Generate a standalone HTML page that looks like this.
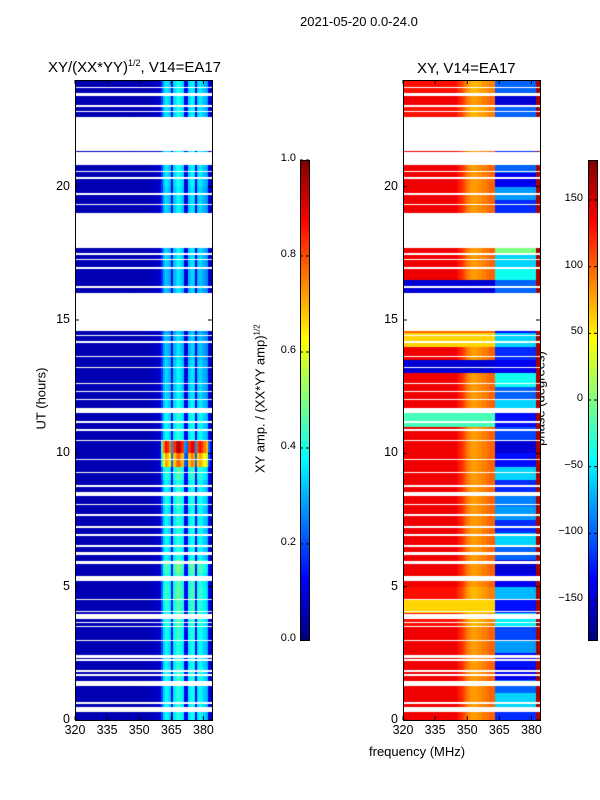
<!DOCTYPE html>
<html><head><meta charset="utf-8">
<style>
body{margin:0;background:#fff;width:600px;height:800px;position:relative;overflow:hidden;font-family:"Liberation Sans",sans-serif;}
.t{position:absolute;font-size:13px;color:#000;white-space:nowrap;}
.tk{position:absolute;font-size:12.5px;color:#000;white-space:nowrap;}
.cb{position:absolute;font-size:11px;color:#000;white-space:nowrap;}
canvas{position:absolute;}
</style></head>
<body>
<div class="t" style="left:300px;top:14px;">2021-05-20 0.0-24.0</div>
<div class="t" style="left:48px;top:58px;font-size:15px;">XY/(XX*YY)<sup style="font-size:9px">1/2</sup>, V14=EA17</div>
<div class="t" style="left:417px;top:60px;font-size:15px;">XY, V14=EA17</div>
<div class="t" style="left:369px;top:744px;">frequency (MHz)</div>
<div class="t" style="left:1px;top:391px;transform:rotate(-90deg);transform-origin:center;width:80px;text-align:center;">UT (hours)</div>
<div class="t" style="left:180px;top:391px;width:160px;text-align:center;transform:rotate(-90deg);">XY amp. / (XX*YY amp)<sup style="font-size:8px">1/2</sup></div>
<div class="t" style="left:490px;top:391px;width:100px;text-align:center;transform:rotate(-90deg);">phase (degrees)</div>

<canvas id="amp" width="137" height="640" style="left:75px;top:80px;"></canvas>
<canvas id="ph" width="137" height="640" style="left:403px;top:80px;"></canvas>
<canvas id="cb1" width="9" height="480" style="left:300px;top:160px;"></canvas>
<canvas id="cb2" width="9" height="480" style="left:588px;top:160px;"></canvas>
<svg id="ov" width="600" height="800" style="position:absolute;left:0;top:0;"></svg>
<div id="labels"></div>

<script>
// ---- data ----
const xTicks = [320,335,350,365,380];
const yTicks = [0,5,10,15,20];
const ampTicks = [0.0,0.2,0.4,0.6,0.8,1.0];
const phaseTicks = [-150,-100,-50,0,50,100,150];
// flagged (white) time ranges in hours
const flagged = [[0.3,0.5],[0.6,0.66],[1.27,1.45],[1.65,1.72],[1.8,1.88],[2.22,2.3],[2.34,2.44],[2.95,3.0],[3.48,3.52],[3.65,3.68],[3.8,3.97],[4.04,4.1],[4.5,4.54],[5.2,5.4],[5.85,5.95],
[6.2,6.3],[6.5,6.55],[6.9,6.97],[7.2,7.28],[7.65,7.72],[8.05,8.1],[8.4,8.55],[8.75,8.82],[9.25,9.3],[9.75,9.8],[10.45,10.5],[10.85,10.9],[11.15,11.2],[11.5,11.7],[12.0,12.05],[12.3,12.35],[12.6,12.65],[13.2,13.25],[13.6,13.65],[14.15,14.22],
[14.4,14.45],[14.6,16.0],[16.2,16.28],[16.9,17.0],[17.25,17.3],[17.45,17.5],[17.7,19.0],[19.3,19.35],[19.7,19.75],[20.3,20.35],[20.55,20.6],[20.8,21.3],[21.35,22.6],[22.8,22.85],[23.0,23.05],[23.4,23.5],[23.7,23.75]];
// amplitude by 1 MHz channel starting at 320 MHz
const ampProfile = [0.05,0.05,0.05,0.05,0.05,0.05,0.05,0.05,0.05,0.05,0.05,0.05,0.05,0.05,0.05,0.05,0.05,0.05,0.05,0.05,
0.05,0.05,0.06,0.05,0.05,0.05,0.05,0.05,0.05,0.06,0.05,0.05,0.05,0.06,0.05,0.06,0.06,0.06,0.07,0.08,
0.2,0.33,0.38,0.36,0.33,0.12,0.36,0.4,0.42,0.38,0.36,0.12,0.1,0.36,0.4,0.38,0.12,0.35,0.38,0.36,0.33,0.3,0.1,0.06];
// half-hour gain applied to amplitude bright band (0..24h)
const ampGain = [1.0,1.0,1.0,1.05,1.0,1.0,1.05,1.1,1.1,1.15,1.1,1.2,1.0,1.0,1.0,1.0,1.05,1.0,1.1,1.9,2.3,1.0,1.0,0.95,
0.9,0.9,0.9,0.85,0.85,0.8,0.8,0.8,0.85,0.85,0.9,0.9,0.9,0.9,0.9,0.9,0.95,0.95,0.95,0.95,0.95,0.95,0.95,0.95];
// half-hour phase (degrees), low band (<363 MHz) and high band
const phaseLow = [140,140,140,140,140,140,140,130,60,130,140,140,140,140,140,140,140,140,140,140,140,140,-20,140,
140,140,-150,140,60,100,0,0,-150,140,140,140,0,0,140,140,140,140,140,140,140,130,140,130];
const phaseHigh = [-120,-60,-100,-140,-130,-80,-110,-50,-130,-70,-140,-150,-100,-60,-120,-80,-90,-120,-60,-130,-150,-110,-130,-60,
-100,-40,-140,-120,-60,-130,0,0,-100,-40,-60,0,0,0,-120,-80,-140,-100,-120,-120,-130,-100,-150,-100];
// phase offset per 1 MHz channel added to low band (yellow band near 350-362 MHz)
const lowBandOffset = [0,0,0,0,0,0,0,0,0,0,0,0,0,0,0,0,0,0,0,0,0,0,0,0,0,-10,-15,-20,-30,-40,-50,-55,-60,-60,-60,-55,-55,-50,-50,-45,-40,-40,-40];

function jet(v){v=Math.max(0,Math.min(1,v));
 const r=Math.max(0,Math.min(1,1.5-Math.abs(4*v-3))),g=Math.max(0,Math.min(1,1.5-Math.abs(4*v-2))),b=Math.max(0,Math.min(1,1.5-Math.abs(4*v-1)));
 return [r*255|0,g*255|0,b*255|0];}
const X0=320,X1=384,W=137,H=640;
function isFlag(h){return flagged.some(f=>h>=f[0]&&h<f[1]);}

function drawHeat(id,valFn){
 const c=document.getElementById(id),ctx=c.getContext('2d');const img=ctx.createImageData(W,H);
 for(let py=0;py<H;py++){const h=(H-py-0.5)/H*24;const fl=isFlag(h);
  for(let px=0;px<W;px++){const f=X0+(px+0.5)/W*(X1-X0);let col=[255,255,255];
   if(!fl){col=jet(valFn(h,f));}
   const k=(py*W+px)*4;img.data[k]=col[0];img.data[k+1]=col[1];img.data[k+2]=col[2];img.data[k+3]=255;}}
 ctx.putImageData(img,0,0);}
function chan(f){return Math.max(0,Math.min(ampProfile.length-1,Math.floor(f-320)));}
function hh(h){return Math.min(47,Math.floor(h*2));}
drawHeat('amp',(h,f)=>{const c=chan(f);const a=ampProfile[c];return c>=40?a*ampGain[hh(h)]:a;});
drawHeat('ph',(h,f)=>{const c=chan(f);let p;
 if(c<=42)p=phaseLow[hh(h)]+(phaseLow[hh(h)]>100?lowBandOffset[c]:0);
 else if(c>=62)p=165;
 else p=phaseHigh[hh(h)];
 return (p+180)/360;});

function drawBar(id){const c=document.getElementById(id),ctx=c.getContext('2d');
 for(let y=0;y<480;y++){const col=jet(1-y/479);ctx.fillStyle=`rgb(${col})`;ctx.fillRect(0,y,9,1);} }
drawBar('cb1');drawBar('cb2');

// overlay axes
const ov=document.getElementById('ov'),NS='http://www.w3.org/2000/svg';
const lab=document.getElementById('labels');
function line(x1,y1,x2,y2,name){const l=document.createElementNS(NS,'line');
 l.setAttribute('x1',x1);l.setAttribute('y1',y1);l.setAttribute('x2',x2);l.setAttribute('y2',y2);l.setAttribute('stroke','#000');l.setAttribute('stroke-width',1);
 
 
 ov.appendChild(l);}
function rect(x,y,w,h,name){const r=document.createElementNS(NS,'rect');
 r.setAttribute('x',x);r.setAttribute('y',y);r.setAttribute('width',w);r.setAttribute('height',h);r.setAttribute('fill','none');r.setAttribute('stroke','#000');
 
 
 ov.appendChild(r);}
function text(s,x,y,cls,align,name){const d=document.createElement('div');d.className=cls;d.textContent=s;
 d.style.top=(y-8)+'px';
 if(align==='c'){d.style.left=(x-30)+'px';d.style.width='60px';d.style.textAlign='center';}
 else if(align==='r'){d.style.left=(x-60)+'px';d.style.width='60px';d.style.textAlign='right';}
 else d.style.left=x+'px';
 
 
 lab.appendChild(d);}
const xs=f=>(f-X0)/(X1-X0)*W, ys=h=>720-h/24*H;
[[75,'left'],[403,'right']].forEach(([ox,p])=>{
 rect(ox+0.5,80.5,W,H,p+'-axes-frame');
 xTicks.forEach(t=>{const x=ox+xs(t);line(x,720,x,716,p+'-x-tick');line(x,80,x,84,p+'-x-tick-top');
  text(String(t),x,731,'tk','c',p+'-x-tick-label');});
 yTicks.forEach(t=>{const y=ys(t);line(ox,y,ox+4,y,p+'-y-tick');line(ox+W,y,ox+W-4,y,p+'-y-tick-right');
  text(String(t),ox-5,y,'tk','r',p+'-y-tick-label');});
});
rect(300.5,160.5,9,480,'amp-colorbar-frame');rect(588.5,160.5,9,480,'phase-colorbar-frame');
ampTicks.forEach(t=>{const y=640-t*480;line(300,y,303,y,'amp-cbar-tick');line(309,y,306,y,'amp-cbar-tick');text(t.toFixed(1),296,y,'cb','r','amp-cbar-label');});
phaseTicks.forEach(t=>{const y=400-t/360*480;line(588,y,591,y,'phase-cbar-tick');line(597,y,594,y,'phase-cbar-tick');text(String(t).replace('-','\u2212'),583,y,'cb','r','phase-cbar-label');});
</script>
</body></html>
